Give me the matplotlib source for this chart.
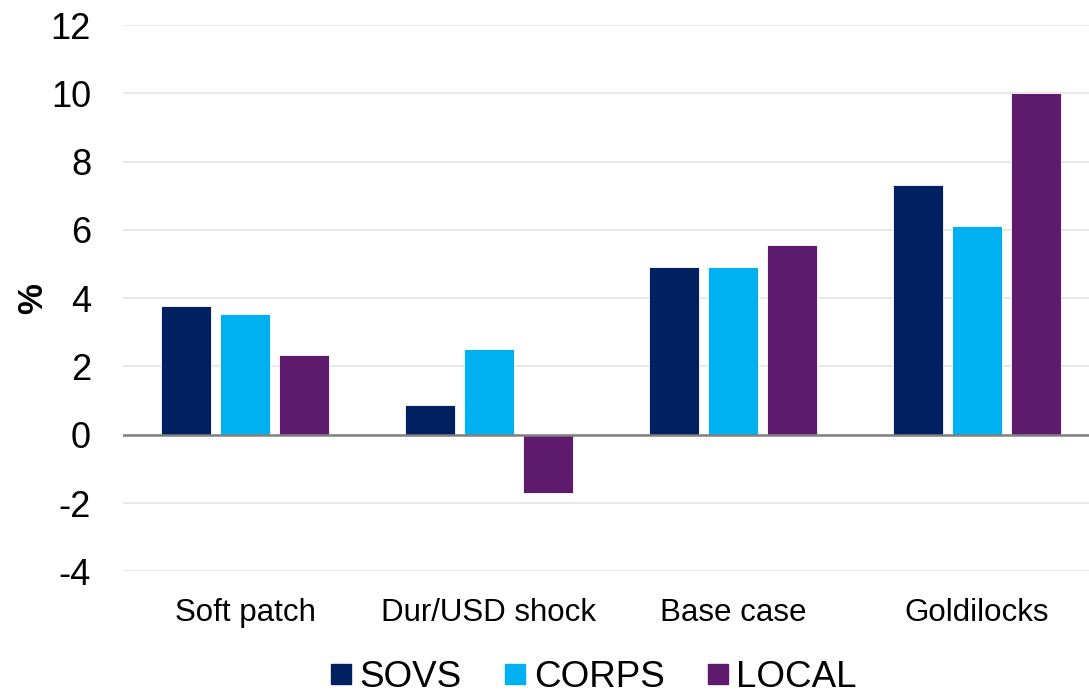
import numpy as np
import matplotlib
matplotlib.use("Agg")
import matplotlib.pyplot as plt
from matplotlib.lines import Line2D

plt.rcParams['font.family'] = ['Liberation Sans', 'DejaVu Sans']
plt.rcParams['axes.unicode_minus'] = False

# data
scenarios = ['Soft patch', 'Dur/USD shock', 'Base case', 'Goldilocks']
sovs = [3.78, 0.86, 4.91, 7.30]
corps = [3.54, 2.51, 4.92, 6.10]
local = [2.33, -1.71, 5.55, 10.0]
series_names = ['SOVS', 'CORPS', 'LOCAL']
colors = ['#00205f', '#00b0f0', '#5e1b6e']

fig = plt.figure(figsize=(10.89, 6.95), dpi=100)
ax = fig.add_axes([0.113, 0.178, 0.887, 0.786])

x = np.arange(len(scenarios))
pitch = 0.242
width = 0.205
for i, (vals, name, c) in enumerate(zip([sovs, corps, local], series_names, colors)):
    ax.bar(x + (i - 1) * pitch, vals, width, color=c, edgecolor='white',
           linewidth=0.6, label=name, zorder=3)

# grid + zero line
ax.set_ylim(-4, 12)
ax.set_yticks(np.arange(-4, 13, 2))
ax.yaxis.grid(True, color='#e4e4e4', linewidth=1.2, zorder=0)
ax.axhline(0, color='#808080', linewidth=1.8, zorder=4)
ax.set_xlim(-0.5, 3.46)
ax.set_xticks(x)
ax.set_xticklabels(scenarios, fontsize=22.5)
ax.tick_params(axis='y', labelsize=26, length=0, pad=23)
ax.tick_params(axis='x', length=0, pad=19)
for s in ax.spines.values():
    s.set_visible(False)

ax.set_ylabel('%', fontsize=25, fontweight='bold')
ax.yaxis.set_label_coords(-0.077, 0.5)

# legend with square markers
handles = [Line2D([0], [0], marker='s', color='w', markerfacecolor=c,
                  markeredgecolor=c, markersize=14.5) for c in colors]
fig.legend(handles, series_names, loc='lower center', bbox_to_anchor=(0.545, -0.047),
           ncol=3, frameon=False, fontsize=26.5, handlelength=0.6,
           handletextpad=0.2, columnspacing=1.15)

fig.savefig('out.png', dpi=100)
